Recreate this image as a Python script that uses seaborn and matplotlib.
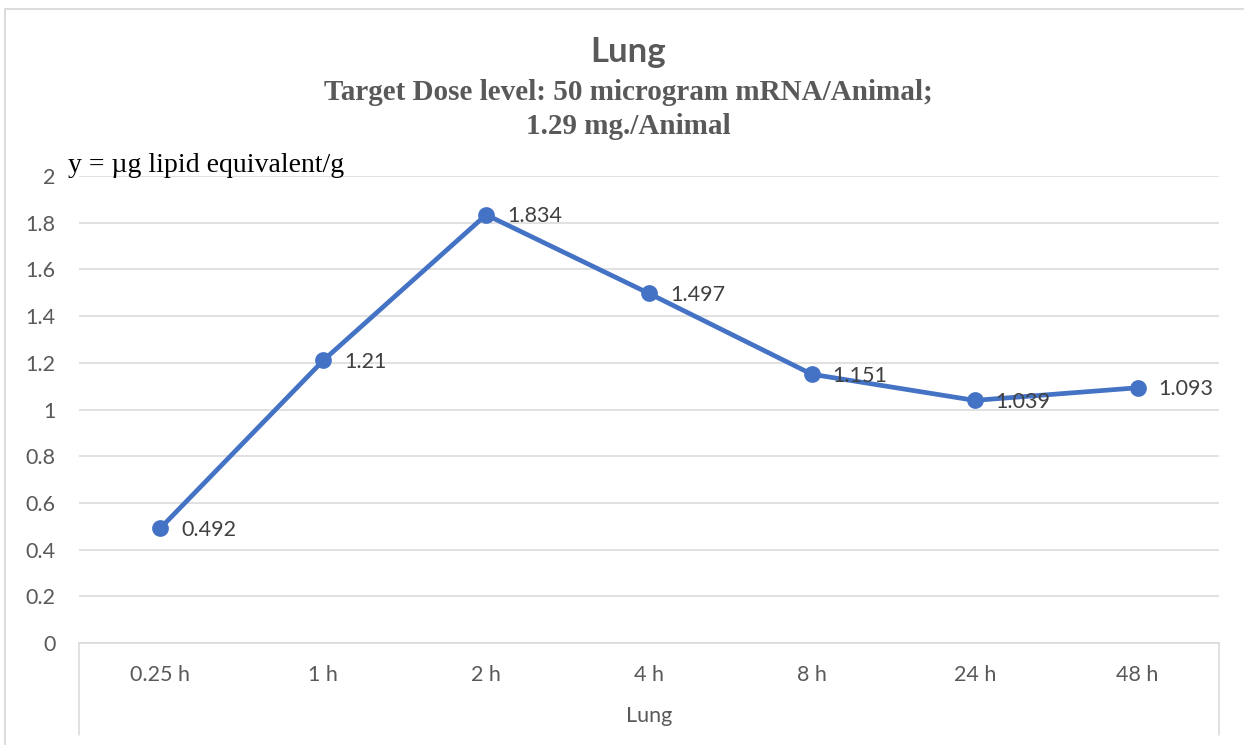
import numpy as np
import pandas as pd
import matplotlib
matplotlib.use("Agg")
import matplotlib.pyplot as plt
import seaborn as sns
from matplotlib.lines import Line2D

# Data
time_points = ["0.25 h", "1 h", "2 h", "4 h", "8 h", "24 h", "48 h"]
lipid_conc = [0.492, 1.21, 1.834, 1.497, 1.151, 1.039, 1.093]
value_labels = ["0.492", "1.21", "1.834", "1.497", "1.151", "1.039", "1.093"]
y_ticks = [0, 0.2, 0.4, 0.6, 0.8, 1, 1.2, 1.4, 1.6, 1.8, 2]
y_tick_labels = ["0", "0.2", "0.4", "0.6", "0.8", "1", "1.2", "1.4", "1.6", "1.8", "2"]

LINE_BLUE = "#4472C4"
GRID_GRAY = "#D9D9D9"
TEXT_GRAY = "#595959"

sns.set_style("white")
plt.rcParams['font.family'] = ['Lato', 'DejaVu Sans']

df = pd.DataFrame({"time": time_points, "value": lipid_conc})

fig = plt.figure(figsize=(12.44, 7.45), dpi=100)
ax = fig.add_axes([79 / 1244, 102 / 745, 1140 / 1244, 467 / 745])

sns.pointplot(data=df, x="time", y="value", order=time_points, color=LINE_BLUE,
              markers="o", linestyles="-", linewidth=3.4, markersize=9.5, ax=ax, zorder=3)

ax.set_xlim(-0.5, len(time_points) - 0.5)
ax.set_ylim(0, 2)
ax.set_yticks(y_ticks)
ax.set_yticklabels(y_tick_labels)
ax.yaxis.grid(True, color=GRID_GRAY, linewidth=1.1)
ax.set_axisbelow(True)
for side in ["top", "right", "left"]:
    ax.spines[side].set_visible(False)
ax.spines["bottom"].set_color(GRID_GRAY)
ax.spines["bottom"].set_linewidth(1.1)
ax.tick_params(axis="both", length=0, labelsize=15.5, labelcolor=TEXT_GRAY)
ax.tick_params(axis="x", pad=16)
ax.tick_params(axis="y", pad=17)
ax.set_xlabel("Lung", fontsize=15.5, color=TEXT_GRAY, labelpad=15)
ax.set_ylabel("")

# data labels to the right of each point
for i, (v, lab) in enumerate(zip(lipid_conc, value_labels)):
    ax.annotate(lab, (i, v), xytext=(15, -1), textcoords="offset points",
                ha="left", va="center", fontsize=15.5, color="#404040")

# multi-level category axis boundary lines (Excel style)
for xpos in [0, 1]:
    ax.plot([xpos, xpos], [0, -0.197], transform=ax.transAxes, color=GRID_GRAY,
            linewidth=1.1, clip_on=False)

# outer chart border
fig.add_artist(Line2D([5 / 1244, 1], [1 - 9 / 745, 1 - 9 / 745], color=GRID_GRAY, linewidth=1.3))
fig.add_artist(Line2D([5 / 1244, 5 / 1244], [0, 1 - 9 / 745], color=GRID_GRAY, linewidth=1.3))

# titles
fig.text(628 / 1244, 1 - 52 / 745, "Lung", ha="center", va="center",
         fontsize=25, fontweight="bold", color=TEXT_GRAY)
fig.text(628 / 1244, 1 - 93 / 745, "Target Dose level: 50 microgram mRNA/Animal;",
         ha="center", va="center", fontsize=21, fontweight="bold", color=TEXT_GRAY,
         family="Liberation Serif")
fig.text(628 / 1244, 1 - 127 / 745, "1.29 mg./Animal",
         ha="center", va="center", fontsize=21, fontweight="bold", color=TEXT_GRAY,
         family="Liberation Serif")
fig.text(68 / 1244, 1 - 165 / 745, "y = \u00b5g lipid equivalent/g", ha="left", va="center",
         fontsize=20, color="black", family="Liberation Serif")

fig.savefig("out.png", dpi=100)
